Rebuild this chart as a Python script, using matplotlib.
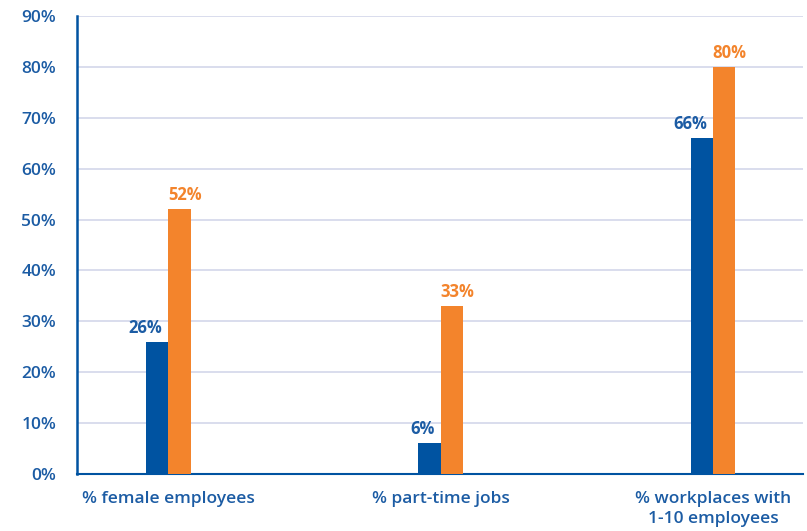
import numpy as np
import matplotlib.pyplot as plt

categories = ["% female employees", "% part-time jobs", "% workplaces with\n1-10 employees"]
blue_vals = [26, 6, 66]
orange_vals = [52, 33, 80]
yticks = [0, 10, 20, 30, 40, 50, 60, 70, 80, 90]

blue = "#0053a1"
orange = "#f3842c"
text_blue = "#1c5ca4"
grid_col = "#d3d7ea"

plt.rcParams['font.family'] = ['Open Sans', 'DejaVu Sans']

fig = plt.figure(figsize=(8.07, 5.31), dpi=100)
ax = fig.add_axes([77 / 807, 1 - 474 / 531, (803 - 77) / 807, (474 - 16) / 531])

x = np.arange(len(categories))
w = 0.082
ax.bar(x - w / 2, blue_vals, w, color=blue, zorder=3)
ax.bar(x + w / 2, orange_vals, w, color=orange, zorder=3)

# value labels: blue ones sit to the left, orange ones over their bar
for xi, b, o in zip(x, blue_vals, orange_vals):
    ax.text(xi - 0.022, b + 1.0, f"{b}%", ha='right', va='bottom',
            color=text_blue, fontsize=12, fontweight='bold')
    ax.text(xi + w / 2 + 0.02, o + 1.0, f"{o}%", ha='center', va='bottom',
            color=orange, fontsize=12, fontweight='bold')

ax.set_xlim(-0.335, 2.33)
ax.set_ylim(0, 90)
ax.set_yticks(yticks)
ax.set_yticklabels([f"{t}%" for t in yticks])
ax.set_xticks(x)
ax.set_xticklabels(categories, linespacing=1.35)
ax.tick_params(axis='y', length=0, pad=15, labelsize=12.5, labelcolor=text_blue)
ax.tick_params(axis='x', length=0, pad=12, labelsize=12.5, labelcolor=text_blue)
for lab in ax.get_yticklabels() + ax.get_xticklabels():
    lab.set_fontweight('semibold')

ax.yaxis.grid(True, color=grid_col, linewidth=1.2, zorder=0)
ax.set_axisbelow(True)
for side in ['top', 'right']:
    ax.spines[side].set_visible(False)
ax.spines['left'].set_color(blue)
ax.spines['left'].set_linewidth(1.8)
ax.spines['bottom'].set_color(blue)
ax.spines['bottom'].set_linewidth(1.5)

fig.savefig("out.png", dpi=100)
